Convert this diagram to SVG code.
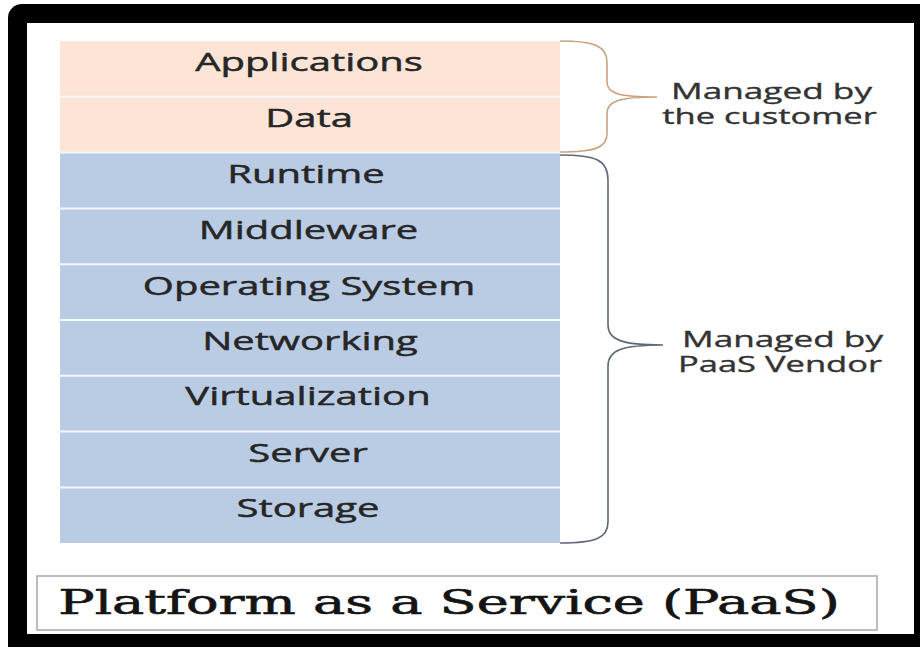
<svg xmlns="http://www.w3.org/2000/svg" width="920" height="647" viewBox="0 0 920 647">
  <style>
    .lbl { font-family: "Open Sans", "Liberation Sans", sans-serif; font-size: 25px; fill: #262626; stroke: #262626; stroke-width: 0.45; text-anchor: middle; }
    .side { font-family: "Open Sans", "Liberation Sans", sans-serif; font-size: 22px; fill: #333333; stroke: #333333; stroke-width: 0.35; text-anchor: middle; }
    .cust { fill: #fce4d6; }
    .vend { fill: #b9cce4; }
    .sep { stroke: #f4f7fb; stroke-width: 2; }
    .brace { fill: none; stroke-width: 1.6; }
    .title { font-family: "DejaVu Serif", "Liberation Serif", serif; font-size: 33px; fill: #141414; stroke: #141414; stroke-width: 0.6; text-anchor: middle; }
  </style>

  <!-- page and frame -->
  <rect x="0" y="0" width="920" height="647" fill="#ffffff"/>
  <rect x="8" y="4" width="930" height="660" rx="14" fill="#000000"/>
  <rect x="27" y="23" width="887" height="611" fill="#ffffff"/>

  <!-- layers managed by the customer -->
  <g id="applications">
    <rect class="cust" x="60" y="41" width="500" height="55.8"/>
    <text class="lbl" transform="translate(309,71) scale(1.6,1)">Applications</text>
  </g>
  <g id="data">
    <rect class="cust" x="60" y="96.8" width="500" height="55.8"/>
    <text class="lbl" transform="translate(309,127) scale(1.6,1)">Data</text>
  </g>

  <!-- layers managed by the vendor -->
  <g id="runtime">
    <rect class="vend" x="60" y="152.6" width="500" height="55.8"/>
    <text class="lbl" transform="translate(306,183) scale(1.6,1)">Runtime</text>
  </g>
  <g id="middleware">
    <rect class="vend" x="60" y="208.4" width="500" height="55.8"/>
    <text class="lbl" transform="translate(308.5,239) scale(1.6,1)">Middleware</text>
  </g>
  <g id="operating-system">
    <rect class="vend" x="60" y="264.2" width="500" height="55.8"/>
    <text class="lbl" transform="translate(309,295) scale(1.6,1)">Operating System</text>
  </g>
  <g id="networking">
    <rect class="vend" x="60" y="320" width="500" height="55.8"/>
    <text class="lbl" transform="translate(310,350) scale(1.6,1)">Networking</text>
  </g>
  <g id="virtualization">
    <rect class="vend" x="60" y="375.8" width="500" height="55.8"/>
    <text class="lbl" transform="translate(308,405) scale(1.6,1)">Virtualization</text>
  </g>
  <g id="server">
    <rect class="vend" x="60" y="431.6" width="500" height="55.8"/>
    <text class="lbl" transform="translate(308,462) scale(1.6,1)">Server</text>
  </g>
  <g id="storage">
    <rect class="vend" x="60" y="487.4" width="500" height="55.6"/>
    <text class="lbl" transform="translate(308,517) scale(1.6,1)">Storage</text>
  </g>

  <!-- row separators -->
  <g id="separators">
    <line class="sep" x1="60" y1="96.8" x2="560" y2="96.8"/>
    <line class="sep" x1="60" y1="152.6" x2="560" y2="152.6"/>
    <line class="sep" x1="60" y1="208.4" x2="560" y2="208.4"/>
    <line class="sep" x1="60" y1="264.2" x2="560" y2="264.2"/>
    <line class="sep" x1="60" y1="320" x2="560" y2="320"/>
    <line class="sep" x1="60" y1="375.8" x2="560" y2="375.8"/>
    <line class="sep" x1="60" y1="431.6" x2="560" y2="431.6"/>
    <line class="sep" x1="60" y1="487.4" x2="560" y2="487.4"/>
  </g>

  <!-- braces -->
  <g id="connectors">
    <path class="brace" stroke="#c9a27e" d="M560,41 C594,41 607,46 607,62 L607,82 C607,94 620,97 657,97 C620,97 607,101 607,113 L607,134 C607,148 594,152 560,152"/>
    <path class="brace" stroke="#5f6a78" d="M560,155 C596,155 608,160 608,180 L608,325 C608,340 622,345 663,345 C622,345 608,350 608,366 L608,522 C608,538 596,543 560,543"/>
  </g>

  <g id="customer-label">
    <text class="side" transform="translate(771.5,99) scale(1.6,1)">Managed by</text>
    <text class="side" transform="translate(769.5,124) scale(1.57,1)">the customer</text>
  </g>
  <g id="vendor-label">
    <text class="side" transform="translate(782.5,347) scale(1.6,1)">Managed by</text>
    <text class="side" transform="translate(780,372) scale(1.57,1)">PaaS Vendor</text>
  </g>

  <!-- caption -->
  <g id="title">
    <rect x="37" y="576" width="840" height="54" fill="#ffffff" stroke="#a6a6a6" stroke-width="1.5"/>
    <text class="title" transform="translate(449,614) scale(1.64,1)">Platform as a Service (PaaS)</text>
  </g>
</svg>
